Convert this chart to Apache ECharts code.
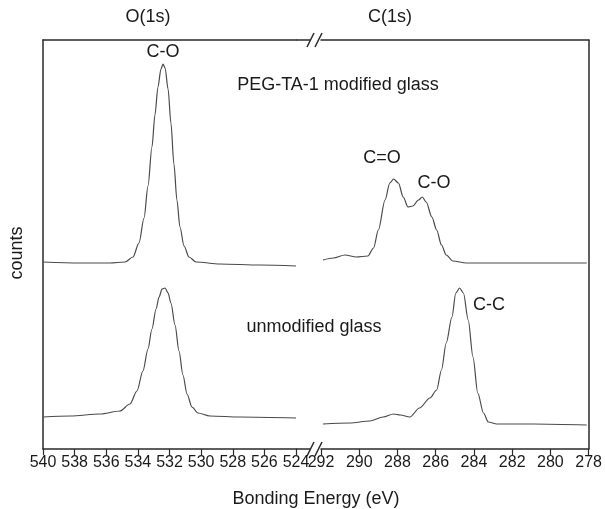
<!DOCTYPE html>
<html>
<head>
<meta charset="utf-8">
<script src="https://cdn.jsdelivr.net/npm/echarts@6/dist/echarts.min.js"></script>
<style>
  html, body { margin: 0; padding: 0; background: #fff; }
  #chart { width: 605px; height: 509px; }
</style>
</head>
<body>
<div id="chart"></div>
<script>
// XPS survey: O(1s) and C(1s) regions, broken energy axis

// O(1s) region (eV, counts a.u.)
const o1sPegEnergy = [540.0, 537.66, 535.76, 534.81, 534.31, 533.93, 533.61, 533.36, 533.11, 532.92, 532.73, 532.54, 532.41, 532.28, 532.09, 531.91, 531.72, 531.53, 531.34, 531.08, 530.77, 530.32, 528.81, 526.28, 524.0];
const o1sPegCounts = [187, 186, 186, 187, 192, 206, 231, 263, 302, 334, 362, 380, 385, 381, 360, 326, 285, 249, 222, 203, 192, 187, 185, 184, 183];

const o1sBareEnergy = [540.0, 538.29, 536.39, 535.13, 534.50, 534.06, 533.68, 533.36, 533.11, 532.85, 532.66, 532.47, 532.28, 532.09, 531.91, 531.65, 531.40, 531.15, 530.89, 530.58, 530.20, 529.44, 527.54, 524.0];
const o1sBareCounts = [32, 33, 35, 38, 45, 58, 78, 100, 120, 140, 152, 160, 161, 156, 146, 124, 98, 74, 55, 42, 36, 33, 32, 31];

// C(1s) region
const c1sPegEnergy = [291.9, 291.35, 290.75, 290.15, 289.55, 289.25, 289.0, 288.65, 288.4, 288.2, 287.95, 287.7, 287.45, 287.2, 286.9, 286.7, 286.5, 286.2, 285.95, 285.7, 285.45, 285.1, 284.4, 282.65, 278.1];
const c1sPegCounts = [189, 191, 194, 192, 193, 201, 219, 249, 266, 270, 266, 252, 242, 243, 249, 252, 247, 232, 219, 204, 194, 188, 186, 186, 186];

const c1sBareEnergy = [291.9, 290.5, 289.45, 288.75, 288.2, 287.85, 287.35, 286.85, 286.3, 285.95, 285.7, 285.45, 285.15, 284.95, 284.75, 284.55, 284.3, 284.05, 283.8, 283.5, 283.25, 282.8, 280.9, 278.1];
const c1sBareCounts = [25, 26, 28, 32, 35, 34, 32, 41, 51, 59, 79, 106, 132, 156, 161, 156, 129, 92, 56, 36, 27, 25, 25, 24];

// axis segments and tick spacing
const oRange = [524, 540];
const cRange = [278, 292];
const tickStep = 2;

const pair = (xs, ys) => xs.map((x, i) => [x, ys[i]]);

const FONT = '"Liberation Sans", Arial, sans-serif';
const INK = '#1a1a1a';
const FRAME = '#2a2a2a';
const TRACE = '#4a4a4a';

// plot frame (pixels)
const frameTop = 40, frameBottom = 449, frameLeft = 43, frameRight = 589;
const oEndPx = 296, cStartPx = 321;

const chart = echarts.init(document.getElementById('chart'), null, { renderer: 'canvas' });

const bottomAxis = (grid, range) => ({
  type: 'value', gridIndex: grid, inverse: true,
  min: range[0], max: range[1], interval: tickStep, position: 'bottom',
  axisLine: { show: true, lineStyle: { color: FRAME, width: 1.5 } },
  axisTick: { show: true, inside: false, length: 6, lineStyle: { color: FRAME, width: 1.2 } },
  axisLabel: { show: true, color: INK, fontSize: 16, fontFamily: FONT, margin: 6 },
  splitLine: { show: false }
});
const topAxis = (grid, range) => ({
  type: 'value', gridIndex: grid, inverse: true,
  min: range[0], max: range[1], position: 'top',
  axisLine: { show: true, lineStyle: { color: FRAME, width: 1.5 } },
  axisTick: { show: false }, axisLabel: { show: false }, splitLine: { show: false }
});
const sideAxis = (grid, pos) => ({
  type: 'value', gridIndex: grid, min: 0, max: 409, position: pos,
  axisLine: { show: true, onZero: false, lineStyle: { color: FRAME, width: 1.5 } },
  axisTick: { show: false }, axisLabel: { show: false }, splitLine: { show: false }
});
const trace = (xi, yi, data) => ({
  type: 'line', xAxisIndex: xi, yAxisIndex: yi, data,
  showSymbol: false, smooth: 0.3, smoothMonotone: 'x',
  lineStyle: { color: TRACE, width: 1.2 }, silent: true
});

const txt = (x, y, s, size, extra) => Object.assign({
  type: 'text', x, y,
  style: { text: s, fill: INK, font: `${size}px ${FONT}`, textAlign: 'center', textVerticalAlign: 'middle' }
}, extra || {});
const seg = (x1, y1, x2, y2) => ({
  type: 'line', shape: { x1, y1, x2, y2 }, style: { stroke: FRAME, lineWidth: 1.5 }
});

chart.setOption({
  animation: false,
  backgroundColor: '#fff',
  grid: [
    { left: frameLeft, right: 605 - oEndPx, top: frameTop, bottom: 509 - frameBottom },
    { left: cStartPx, right: 605 - frameRight, top: frameTop, bottom: 509 - frameBottom }
  ],
  xAxis: [
    bottomAxis(0, oRange), bottomAxis(1, cRange),
    topAxis(0, oRange), topAxis(1, cRange)
  ],
  yAxis: [sideAxis(0, 'left'), sideAxis(1, 'right')],
  series: [
    trace(0, 0, pair(o1sPegEnergy, o1sPegCounts)),
    trace(0, 0, pair(o1sBareEnergy, o1sBareCounts)),
    trace(1, 1, pair(c1sPegEnergy, c1sPegCounts)),
    trace(1, 1, pair(c1sBareEnergy, c1sBareCounts))
  ],
  graphic: [
    // axis break on top and bottom edges
    seg(oEndPx, frameTop, 310, frameTop), seg(oEndPx, frameBottom, 310, frameBottom),
    seg(307, frameTop + 7, 314, frameTop - 7), seg(315, frameTop + 7, 322, frameTop - 7),
    seg(307, frameBottom + 7, 314, frameBottom - 7), seg(315, frameBottom + 7, 322, frameBottom - 7),
    // region titles
    txt(148, 17, 'O(1s)', 18), txt(390, 17, 'C(1s)', 18),
    // peak annotations
    txt(163, 52, 'C-O', 18),
    txt(338, 85, 'PEG-TA-1 modified glass', 18),
    txt(382, 158, 'C=O', 18), txt(434, 183, 'C-O', 18),
    txt(489, 305, 'C-C', 18),
    txt(314, 327, 'unmodified glass', 18),
    // axis titles
    txt(316, 499, 'Bonding Energy (eV)', 18),
    txt(17, 253, 'counts', 18, { rotation: Math.PI / 2 })
  ]
});
</script>
</body>
</html>
